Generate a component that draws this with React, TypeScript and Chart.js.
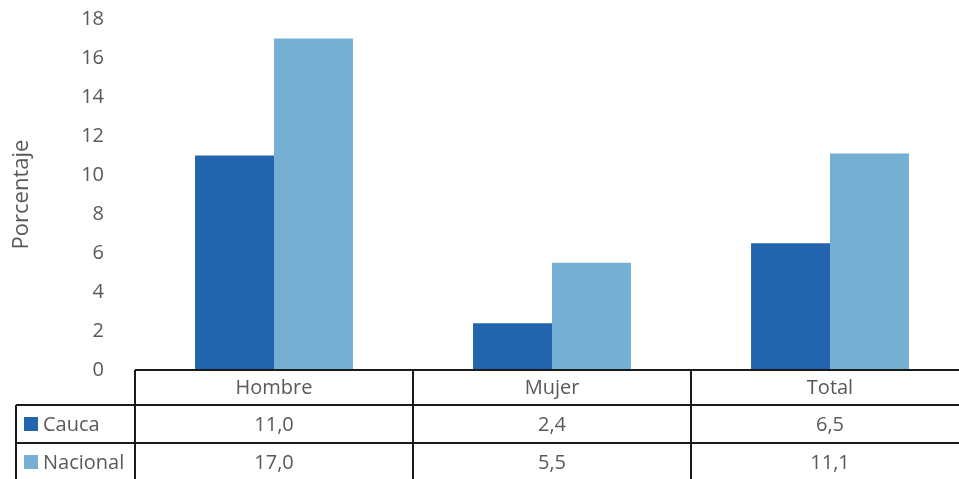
import React, { useEffect, useRef } from "react";
import { Chart, registerables } from "chart.js";

Chart.register(...registerables);

const categories = ["Hombre", "Mujer", "Total"];
const seriesNames = ["Cauca", "Nacional"];
const caucaValues = [11.0, 2.4, 6.5];
const nacionalValues = [17.0, 5.5, 11.1];
const seriesColors = ["#2264AE", "#75B0D4"];
const yTitle = "Porcentaje";

const FONT = "'Open Sans', sans-serif";
const TEXT = "#595959";
const FS = 20;

const fmt = (v: number) => v.toFixed(1).replace(".", ",");

const tablePlugin = {
  id: "dataTable",
  afterDraw(chart: any) {
    const ctx = chart.ctx as CanvasRenderingContext2D;
    const area = chart.chartArea;
    const xs = chart.scales.x;
    const n = categories.length;
    const colW = (area.right - area.left) / n;
    const top = area.bottom;
    const rows = [top, top + 35, top + 73, top + 111];
    const legendLeft = 16;
    ctx.save();
    ctx.strokeStyle = "#1a1a1a";
    ctx.lineWidth = 2;
    ctx.beginPath();
    ctx.moveTo(area.left, rows[0]);
    ctx.lineTo(area.right, rows[0]);
    ctx.moveTo(legendLeft, rows[1]);
    ctx.lineTo(area.right, rows[1]);
    ctx.moveTo(legendLeft, rows[2]);
    ctx.lineTo(area.right, rows[2]);
    ctx.moveTo(legendLeft, rows[3]);
    ctx.lineTo(area.right, rows[3]);
    ctx.moveTo(legendLeft, rows[1]);
    ctx.lineTo(legendLeft, rows[3]);
    for (let i = 0; i <= n; i++) {
      const x = area.left + i * colW;
      ctx.moveTo(x, rows[0]);
      ctx.lineTo(x, rows[3]);
    }
    ctx.stroke();

    ctx.fillStyle = TEXT;
    ctx.font = `${FS}px ${FONT}`;
    ctx.textAlign = "center";
    ctx.textBaseline = "middle";
    const seriesData = [caucaValues, nacionalValues];
    for (let i = 0; i < n; i++) {
      const cx = xs.getPixelForValue(i);
      ctx.fillText(categories[i], cx, (rows[0] + rows[1]) / 2 + 1);
      for (let s = 0; s < seriesData.length; s++) {
        ctx.fillText(fmt(seriesData[s][i]), cx, (rows[s + 1] + rows[s + 2]) / 2 + 1);
      }
    }
    ctx.textAlign = "left";
    for (let s = 0; s < seriesNames.length; s++) {
      const cy = (rows[s + 1] + rows[s + 2]) / 2;
      ctx.fillStyle = seriesColors[s];
      ctx.fillRect(24, cy - 7, 14, 14);
      ctx.fillStyle = TEXT;
      ctx.fillText(seriesNames[s], 43, cy + 1);
    }
    ctx.restore();
  },
};

export default function App() {
  const ref = useRef<HTMLCanvasElement>(null);
  useEffect(() => {
    if (!ref.current) return;
    const chart = new Chart(ref.current, {
      type: "bar",
      data: {
        labels: categories,
        datasets: [
          {
            label: seriesNames[0],
            data: caucaValues,
            backgroundColor: seriesColors[0],
            categoryPercentage: 0.568,
            barPercentage: 1,
          },
          {
            label: seriesNames[1],
            data: nacionalValues,
            backgroundColor: seriesColors[1],
            categoryPercentage: 0.568,
            barPercentage: 1,
          },
        ],
      },
      options: {
        responsive: false,
        animation: false,
        devicePixelRatio: 1,
        layout: { padding: { top: 19, bottom: 109, right: 6, left: 0 } },
        plugins: { legend: { display: false }, tooltip: { enabled: false } },
        scales: {
          x: { display: false },
          y: {
            min: 0,
            max: 18,
            afterFit: (scale: any) => {
              scale.width = 135;
              scale.paddingTop = 0;
              scale.paddingBottom = 0;
            },
            ticks: {
              stepSize: 2,
              padding: 23,
              color: TEXT,
              font: { family: FONT, size: FS },
            },
            grid: { display: false },
            border: { display: false },
            title: {
              display: true,
              text: yTitle,
              color: TEXT,
              font: { family: FONT, size: 22 },
              padding: { top: 9, bottom: 0 },
            },
          },
        },
      },
      plugins: [tablePlugin],
    });
    return () => chart.destroy();
  }, []);
  return (
    <div
      style={{
        position: "fixed",
        left: 0,
        top: 0,
        width: 959,
        height: 479,
        overflow: "hidden",
        background: "#fff",
      }}
    >
      <canvas ref={ref} width={975} height={479} style={{ width: 975, height: 479, display: "block" }} />
    </div>
  );
}
